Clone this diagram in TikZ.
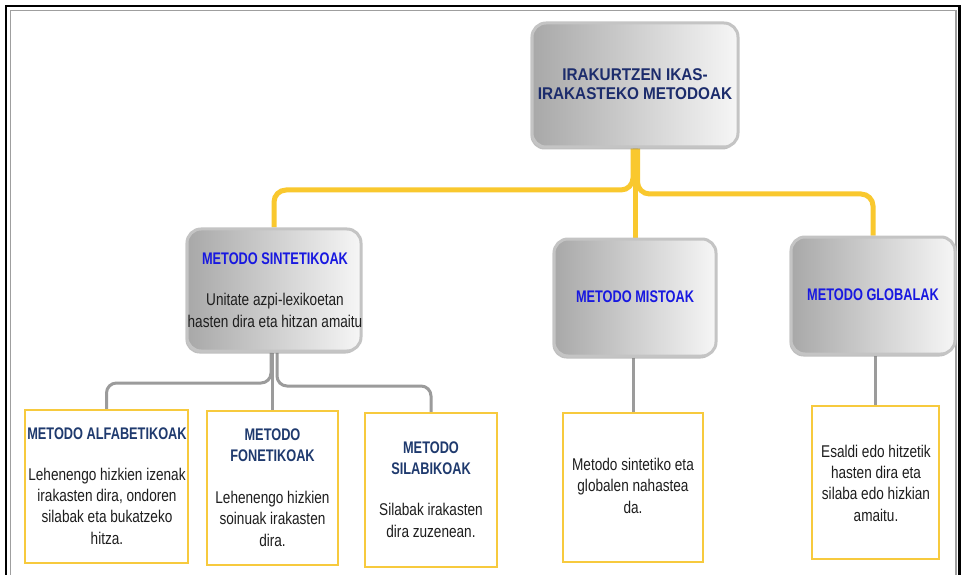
\documentclass[tikz,border=0pt]{standalone}
\usepackage{fontspec}
\setmainfont{Liberation Sans}
\newfontfamily\bodyf[FakeStretch=0.8]{Liberation Sans}
\newfontfamily\titf[FakeStretch=0.76]{Liberation Sans}
\newfontfamily\rootf[FakeStretch=0.9]{Liberation Sans}
\usetikzlibrary{shadows}
\pgfdeclarelayer{bottomlayer}
\pgfdeclarelayer{connlayer}
\pgfsetlayers{bottomlayer,connlayer,main}
\definecolor{yconnc}{HTML}{F9C82E}
\definecolor{yboxc}{HTML}{F7CA3E}
\definecolor{gconnc}{HTML}{9B9B9B}
\definecolor{gbordc}{HTML}{C4C4C4}
\definecolor{gleft}{HTML}{A8A8A8}
\definecolor{gright}{HTML}{F6F6F6}
\definecolor{blueT}{HTML}{1818E0}
\definecolor{navyT}{HTML}{1F3A6E}
\definecolor{rootT}{HTML}{1C2C6C}
\definecolor{bodyc}{HTML}{1E1E1E}
\begin{document}
\begin{tikzpicture}[x=1pt,y=-1pt,
  gbox/.style={draw=gbordc, line width=3pt, rounded corners=14pt, left color=gleft, right color=gright, inner sep=0pt,
     drop shadow={shadow xshift=-1.5pt, shadow yshift=-2.5pt, fill=black!55, opacity=0.45}},
  ybox/.style={draw=yboxc, line width=2.5pt, fill=white, inner sep=0pt},
  yconn/.style={draw=yconnc, line width=5pt, rounded corners=12pt},
  gconn/.style={draw=gconnc, line width=3pt, rounded corners=10pt},
  bodyt/.style={font=\bodyf\fontsize{17}{21.3}\selectfont, align=center, text height=12pt, text depth=0pt, inner sep=0pt, text=bodyc},
  titb/.style={font=\titf\bfseries\fontsize{16.8}{21}\selectfont, align=center, text height=12pt, text depth=0pt, inner sep=0pt, text=blueT},
  titn/.style={titb, text=navyT},
  roott/.style={font=\rootf\bfseries\fontsize{17}{19}\selectfont, align=center, text height=12.2pt, text depth=0pt, inner sep=0pt, text=rootT}
]
\useasboundingbox (0,0) rectangle (962,575);
\begin{pgfonlayer}{bottomlayer}
\fill[white] (0,0) rectangle (962,575);
\end{pgfonlayer}

% frame
\draw[black, line width=2.5pt] (6,575) -- (6,6) -- (959.5,6) -- (959.5,575);
\draw[gray!75, line width=1.2pt] (10.5,575) -- (10.5,10.5) -- (956,10.5) -- (956,575);

% box nodes
\node[gbox, minimum width=206, minimum height=124] (root) at (635,85) {};
\node[gbox, minimum width=174, minimum height=122] (sint) at (274,290) {};
\node[gbox, minimum width=162, minimum height=117] (mist) at (635,297.5) {};
\node[gbox, minimum width=164, minimum height=117] (glob) at (873,295.5) {};

\node[ybox, minimum width=163, minimum height=153] (alf) at (106.5,486.5) {};
\node[ybox, minimum width=131, minimum height=154] (fon) at (272.5,488) {};
\node[ybox, minimum width=132, minimum height=154] (sil) at (431,490) {};
\node[ybox, minimum width=140, minimum height=149] (mix) at (633,487.5) {};
\node[ybox, minimum width=127, minimum height=153] (glo) at (875.5,482.5) {};

% connectors (behind boxes)
\coordinate (jyl) at (633,190);
\coordinate (jyr) at (0,194);
\coordinate (jga) at (0,383);
\coordinate (jgb) at (0,386);
\begin{pgfonlayer}{connlayer}
\draw[yconn] (root.south) -- (mist.north);
\draw[yconn] (sint.north) |- (jyl) -- (jyl |- root.south);
\draw[yconn] ([xshift=2.5pt]root.south) |- (glob.north |- jyr) -- (glob.north);
\draw[gconn] ([xshift=-3pt]sint.south) |- (alf.north |- jga) -- (alf.north);
\draw[gconn] (sint.south -| fon.north) -- (fon.north);
\draw[gconn] ([xshift=3pt]sint.south) |- (sil.north |- jgb) -- (sil.north);
\draw[gconn] (mix.north |- mist.south) -- (mix.north);
\draw[gconn] (glo.north |- glob.south) -- (glo.north);
\end{pgfonlayer}

% text (multi-line nodes are placed at their last line)
\node[roott] (rootx) at (635,93) {IRAKURTZEN IKAS-\\IRAKASTEKO METODOAK};
\node[titb] (sintx) at (275,259) {METODO SINTETIKOAK};
\node[bodyt] (sintb) at (275,321) {Unitate azpi-lexikoetan\\hasten dira eta hitzan amaitu};
\node[titb] (mistx) at (635,296) {METODO MISTOAK};
\node[titb] (globx) at (873,294) {METODO GLOBALAK};

\node[titn] (alfx) at (107,433) {METODO ALFABETIKOAK};
\node[bodyt] (alfb) at (107,538) {Lehenengo hizkien izenak\\irakasten dira, ondoren\\silabak eta bukatzeko\\hitza.};
\node[titn] (fonx) at (272.5,455) {METODO\\FONETIKOAK};
\node[bodyt] (fonb) at (272.5,540) {Lehenengo hizkien\\soinuak irakasten\\dira.};
\node[titn] (silx) at (431,468) {METODO\\SILABIKOAK};
\node[bodyt] (silb) at (431,531) {Silabak irakasten\\dira zuzenean.};
\node[bodyt] (mixb) at (633,507) {Metodo sintetiko eta\\globalen nahastea\\da.};
\node[bodyt] (glob2) at (876,515) {Esaldi edo hitzetik\\hasten dira eta\\silaba edo hizkian\\amaitu.};

\end{tikzpicture}
\end{document}
